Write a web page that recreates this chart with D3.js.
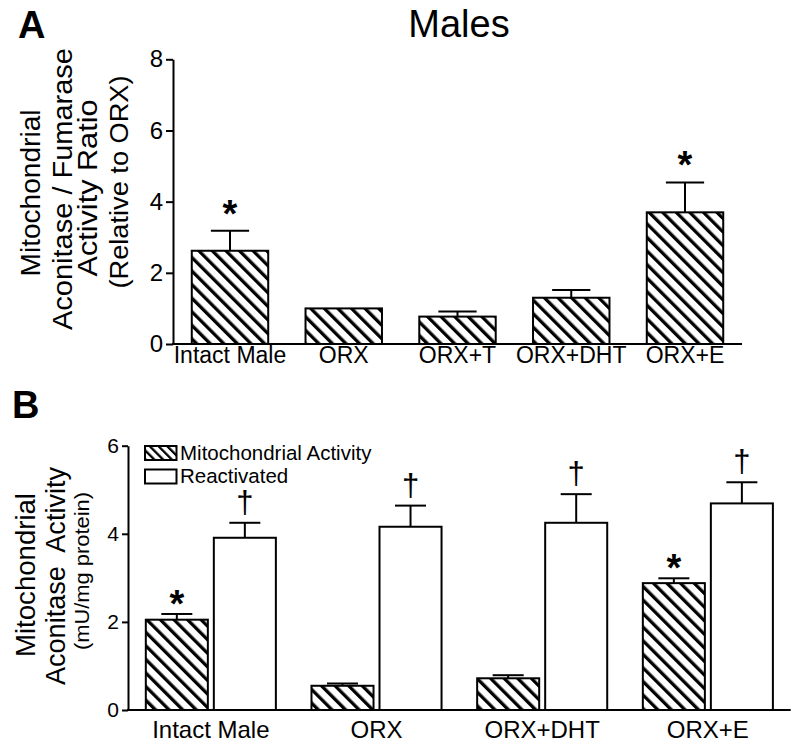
<!DOCTYPE html>
<html><head><meta charset="utf-8">
<script src="https://cdn.jsdelivr.net/npm/d3@7"></script>
<style>
body{margin:0;background:#fff;}
text{font-family:"Liberation Sans",Arial,sans-serif;fill:#000;}
</style></head>
<body>
<svg id="chart" width="800" height="750"></svg>
<script>
// ---------- Panel A data ----------
const catsA = ["Intact Male", "ORX", "ORX+T", "ORX+DHT", "ORX+E"];
const ratioA = [2.62, 1.0, 0.77, 1.30, 3.70];
const ratioErrA = [0.56, 0, 0.14, 0.22, 0.84];
const sigA = ["*", "", "", "", "*"];
const ticksA = [0, 2, 4, 6, 8];

// ---------- Panel B data ----------
const catsB = ["Intact Male", "ORX", "ORX+DHT", "ORX+E"];
const seriesB = ["Mitochondrial Activity", "Reactivated"];
const mitoB = [2.05, 0.55, 0.72, 2.88];
const mitoErrB = [0.13, 0.05, 0.07, 0.11];
const mitoSigB = ["*", "", "", "*"];
const reactB = [3.91, 4.16, 4.25, 4.69];
const reactErrB = [0.34, 0.48, 0.65, 0.48];
const reactSigB = ["\u2020", "\u2020", "\u2020", "\u2020"];
const ticksB = [0, 2, 4, 6];

const svg = d3.select("#chart");
const defs = svg.append("defs");
function hatch(id, spacing, sw) {
  const p = defs.append("pattern").attr("id", id).attr("patternUnits", "userSpaceOnUse")
    .attr("width", spacing).attr("height", spacing).attr("patternTransform", "rotate(-45)");
  p.append("rect").attr("width", spacing).attr("height", spacing).attr("fill", "#fff");
  p.append("rect").attr("x", 0).attr("y", 0).attr("width", sw).attr("height", spacing).attr("fill", "#000");
}
hatch("hatch", 9.6, 3.3);
hatch("hatchLeg", 6.2, 2.3);

// ================= Panel A =================
const xA = d3.scaleBand().domain(catsA).range([173, 742]).paddingInner(0.328).paddingOuter(0.165);
const yA = d3.scaleLinear().domain([0, 8]).range([344, 59.3]);
const gA = svg.append("g");

svg.append("text").attr("x", 18).attr("y", 38).attr("font-size", 38).attr("font-weight", "bold").text("A");
svg.append("text").attr("x", 459).attr("y", 37).attr("text-anchor", "middle").attr("font-size", 38).text("Males");

const dataA = catsA.map((c, i) => ({c, v: ratioA[i], e: ratioErrA[i], s: sigA[i]}));
dataA.filter(d => d.e > 0).forEach(d => {
  const cx = xA(d.c) + xA.bandwidth() / 2, hw = xA.bandwidth() / 4;
  gA.append("line").attr("x1", cx).attr("x2", cx).attr("y1", yA(d.v)).attr("y2", yA(d.v + d.e)).attr("stroke", "#000").attr("stroke-width", 2);
  gA.append("line").attr("x1", cx - hw).attr("x2", cx + hw).attr("y1", yA(d.v + d.e)).attr("y2", yA(d.v + d.e)).attr("stroke", "#000").attr("stroke-width", 2);
});
gA.selectAll("rect.bar").data(dataA).join("rect").attr("class", "bar")
  .attr("x", d => xA(d.c)).attr("width", xA.bandwidth())
  .attr("y", d => yA(d.v)).attr("height", d => yA(0) - yA(d.v))
  .attr("fill", "url(#hatch)").attr("stroke", "#000").attr("stroke-width", 2);
gA.selectAll("text.sig").data(dataA.filter(d => d.s)).join("text").attr("class", "sig")
  .attr("x", d => xA(d.c) + xA.bandwidth() / 2).attr("y", d => yA(d.v + d.e) - 4)
  .attr("text-anchor", "middle").attr("font-size", 38).attr("font-weight", "bold").text(d => d.s);
const axA = gA.append("g").attr("transform", "translate(173,0)")
  .call(d3.axisLeft(yA).tickValues(ticksA).tickFormat(d3.format("d")).tickSize(7).tickSizeOuter(0).tickPadding(3));
axA.selectAll("path,line").attr("stroke", "#000").attr("stroke-width", 2);
axA.selectAll("text").attr("font-size", 24).attr("font-family", "Liberation Sans, Arial, sans-serif");
gA.append("line").attr("x1", 172).attr("x2", 742).attr("y1", yA(0)).attr("y2", yA(0)).attr("stroke", "#000").attr("stroke-width", 2);
gA.selectAll("text.cat").data(catsA).join("text").attr("class", "cat")
  .attr("x", d => xA(d) + xA.bandwidth() / 2).attr("y", 363).attr("text-anchor", "middle").attr("font-size", 23).text(d => d);
const ytA = [
  {t: "Mitochondrial", x: 40, y: 193, len: 167, fs: 27},
  {t: "Aconitase / Fumarase", x: 72, y: 189, len: 282, fs: 27},
  {t: "Activity Ratio", x: 97, y: 188, len: 177, fs: 27},
  {t: "(Relative to ORX)", x: 128, y: 182, len: 213, fs: 25}
];
ytA.forEach(d => {
  svg.append("text").attr("transform", `translate(${d.x},${d.y}) rotate(-90)`).attr("text-anchor", "middle")
    .attr("font-size", d.fs).attr("textLength", d.len).attr("lengthAdjust", "spacingAndGlyphs").text(d.t);
});

// ================= Panel B =================
const xB = d3.scaleBand().domain(catsB).range([128, 790.7]).paddingInner(0.215).paddingOuter(0.1075);
const xBi = d3.scaleBand().domain(seriesB).range([0, xB.bandwidth()]).paddingInner(0.088);
const yB = d3.scaleLinear().domain([0, 6]).range([710, 445.7]);
const gB = svg.append("g");

svg.append("text").attr("x", 12).attr("y", 418).attr("font-size", 38).attr("font-weight", "bold").text("B");

const dataB = [];
catsB.forEach((c, i) => {
  dataB.push({c, s: seriesB[0], v: mitoB[i], e: mitoErrB[i], m: mitoSigB[i], fill: "url(#hatch)"});
  dataB.push({c, s: seriesB[1], v: reactB[i], e: reactErrB[i], m: reactSigB[i], fill: "#fff"});
});
const bx = d => xB(d.c) + xBi(d.s);
dataB.forEach(d => {
  const cx = bx(d) + xBi.bandwidth() / 2, hw = xBi.bandwidth() / 4;
  gB.append("line").attr("x1", cx).attr("x2", cx).attr("y1", yB(d.v)).attr("y2", yB(d.v + d.e)).attr("stroke", "#000").attr("stroke-width", 2);
  gB.append("line").attr("x1", cx - hw).attr("x2", cx + hw).attr("y1", yB(d.v + d.e)).attr("y2", yB(d.v + d.e)).attr("stroke", "#000").attr("stroke-width", 2);
});
gB.selectAll("rect.bar").data(dataB).join("rect").attr("class", "bar")
  .attr("x", bx).attr("width", xBi.bandwidth())
  .attr("y", d => yB(d.v)).attr("height", d => yB(0) - yB(d.v))
  .attr("fill", d => d.fill).attr("stroke", "#000").attr("stroke-width", 2);
gB.selectAll("text.sig").data(dataB.filter(d => d.m === "*")).join("text").attr("class", "sig")
  .attr("x", d => bx(d) + xBi.bandwidth() / 2).attr("y", d => yB(d.v + d.e) + 3)
  .attr("text-anchor", "middle").attr("font-size", 38).attr("font-weight", "bold").text(d => d.m);
gB.selectAll("text.dag").data(dataB.filter(d => d.m === "\u2020")).join("text").attr("class", "dag")
  .attr("x", d => bx(d) + xBi.bandwidth() / 2).attr("y", d => yB(d.v + d.e) - 10)
  .attr("text-anchor", "middle").attr("font-size", 31).text(d => d.m);
const axB = gB.append("g").attr("transform", "translate(128,0)")
  .call(d3.axisLeft(yB).tickValues(ticksB).tickFormat(d3.format("d")).tickSize(6).tickSizeOuter(0).tickPadding(3));
axB.selectAll("path,line").attr("stroke", "#000").attr("stroke-width", 2);
axB.selectAll("text").attr("font-size", 21).attr("font-family", "Liberation Sans, Arial, sans-serif");
gB.append("line").attr("x1", 127).attr("x2", 790.7).attr("y1", yB(0)).attr("y2", yB(0)).attr("stroke", "#000").attr("stroke-width", 2);
gB.selectAll("text.cat").data(catsB).join("text").attr("class", "cat")
  .attr("x", d => xB(d) + xB.bandwidth() / 2).attr("y", 738).attr("text-anchor", "middle").attr("font-size", 24).text(d => d);
const leg = gB.append("g");
seriesB.forEach((s, i) => {
  leg.append("rect").attr("x", 145).attr("y", 446 + i * 23.5).attr("width", 31.5).attr("height", 14)
    .attr("fill", i === 0 ? "url(#hatchLeg)" : "#fff").attr("stroke", "#000").attr("stroke-width", 2);
  leg.append("text").attr("x", 180).attr("y", 460 + i * 23).attr("font-size", 20.5).text(s);
});
const ytB = [
  {t: "Mitochondrial", x: 35, y: 575, len: 164, fs: 27},
  {t: "Aconitase  Activity", x: 65, y: 576, len: 218, fs: 27},
  {t: "(mU/mg protein)", x: 89, y: 571, len: 158, fs: 21}
];
ytB.forEach(d => {
  svg.append("text").attr("transform", `translate(${d.x},${d.y}) rotate(-90)`).attr("text-anchor", "middle")
    .attr("font-size", d.fs).attr("textLength", d.len).attr("lengthAdjust", "spacingAndGlyphs")
    .style("white-space", "pre").text(d.t);
});
</script>
</body></html>
